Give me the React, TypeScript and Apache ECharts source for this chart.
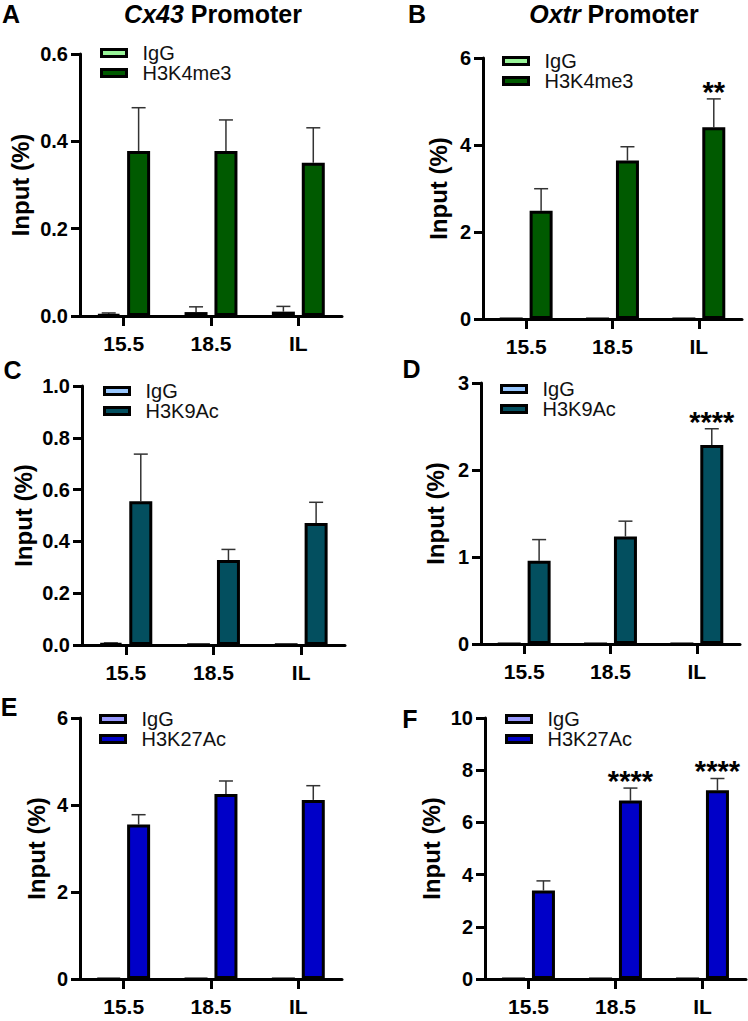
import React, { useEffect, useRef } from "react";
import * as echarts from "echarts";

// ---------- data ----------
const categories = ["15.5", "18.5", "IL"];

// Panel A — Cx43 promoter, H3K4me3
const aIgG = [0.003, 0.009, 0.01];
const aIgGSem = [0.004, 0.012, 0.012];
const aMark = [0.378, 0.378, 0.351];
const aMarkSem = [0.099, 0.071, 0.08];
const aStars = ["", "", ""];

// Panel B — Oxtr promoter, H3K4me3
const bIgG = [0, 0, 0];
const bIgGSem = [0, 0, 0];
const bMark = [2.49, 3.645, 4.41];
const bMarkSem = [0.505, 0.315, 0.65];
const bStars = ["", "", "**"];

// Panel C — Cx43 promoter, H3K9Ac
const cIgG = [0.006, 0.001, 0.001];
const cIgGSem = [0.002, 0, 0];
const cMark = [0.555, 0.328, 0.471];
const cMarkSem = [0.182, 0.041, 0.08];
const cStars = ["", "", ""];

// Panel D — Oxtr promoter, H3K9Ac
const dIgG = [0, 0, 0];
const dIgGSem = [0, 0, 0];
const dMark = [0.957, 1.237, 2.288];
const dMarkSem = [0.243, 0.175, 0.186];
const dStars = ["", "", "****"];

// Panel E — Cx43 promoter, H3K27Ac
const eIgG = [0, 0, 0];
const eIgGSem = [0, 0, 0];
const eMark = [3.552, 4.255, 4.117];
const eMarkSem = [0.225, 0.297, 0.327];
const eStars = ["", "", ""];

// Panel F — Oxtr promoter, H3K27Ac
const fIgG = [0, 0, 0];
const fIgGSem = [0, 0, 0];
const fMark = [3.395, 6.835, 7.231];
const fMarkSem = [0.364, 0.48, 0.451];
const fStars = ["", "****", "****"];

const FONT = '"Liberation Sans", Arial, Helvetica, sans-serif';
const BAR_W = 23;
const BAR_GAP = 0.3;
const OFFSET = (BAR_W + BAR_W * BAR_GAP) / 2;

type Panel = {
  letter: string;
  letterPos: [number, number];
  grid: { left: number; top: number; width: number; height: number };
  ymax: number;
  interval: number;
  decimals: number;
  nameGap: number;
  mark: string;
  igg: number[];
  iggSem: number[];
  val: number[];
  sem: number[];
  stars: string[];
  iggColor: string;
  markColor: string;
  legend: [number, number];
};

const panels: Panel[] = [
  {
    letter: "A", letterPos: [11, 14],
    grid: { left: 80, top: 54, width: 262, height: 262 },
    ymax: 0.6, interval: 0.2, decimals: 1, nameGap: 48,
    mark: "H3K4me3", igg: aIgG, iggSem: aIgGSem, val: aMark, sem: aMarkSem, stars: aStars,
    iggColor: "#99f599", markColor: "#005a00", legend: [100, 43],
  },
  {
    letter: "B", letterPos: [417, 14],
    grid: { left: 483, top: 58, width: 259, height: 261 },
    ymax: 6, interval: 2, decimals: 0, nameGap: 33,
    mark: "H3K4me3", igg: bIgG, iggSem: bIgGSem, val: bMark, sem: bMarkSem, stars: bStars,
    iggColor: "#99f599", markColor: "#005a00", legend: [502, 51],
  },
  {
    letter: "C", letterPos: [12.5, 370],
    grid: { left: 82, top: 386, width: 263, height: 259 },
    ymax: 1.0, interval: 0.2, decimals: 1, nameGap: 47,
    mark: "H3K9Ac", igg: cIgG, iggSem: cIgGSem, val: cMark, sem: cMarkSem, stars: cStars,
    iggColor: "#99c8ff", markColor: "#034f5f", legend: [103, 381],
  },
  {
    letter: "D", letterPos: [411.5, 369],
    grid: { left: 481, top: 383, width: 259, height: 261 },
    ymax: 3, interval: 1, decimals: 0, nameGap: 34,
    mark: "H3K9Ac", igg: dIgG, iggSem: dIgGSem, val: dMark, sem: dMarkSem, stars: dStars,
    iggColor: "#99c8ff", markColor: "#034f5f", legend: [500, 379],
  },
  {
    letter: "E", letterPos: [9, 707],
    grid: { left: 80, top: 718, width: 262, height: 261 },
    ymax: 6, interval: 2, decimals: 0, nameGap: 32,
    mark: "H3K27Ac", igg: eIgG, iggSem: eIgGSem, val: eMark, sem: eMarkSem, stars: eStars,
    iggColor: "#9999ff", markColor: "#0000c8", legend: [99, 709],
  },
  {
    letter: "F", letterPos: [410, 719],
    grid: { left: 485, top: 718, width: 261, height: 261 },
    ymax: 10, interval: 2, decimals: 0, nameGap: 42,
    mark: "H3K27Ac", igg: fIgG, iggSem: fIgGSem, val: fMark, sem: fMarkSem, stars: fStars,
    iggColor: "#9999ff", markColor: "#0000c8", legend: [505, 709],
  },
];

const titles = [
  { gene: "Cx43", x: 213, y: 1 },
  { gene: "Oxtr", x: 614, y: 1 },
];

function makeErr(offset: number, stars: string[]) {
  return (params: any, api: any) => {
    const i = api.value(0);
    const top = api.value(1);
    const mean = api.value(2);
    const pTop = api.coord([i, top]);
    const pMean = api.coord([i, mean]);
    const x = pTop[0] + offset;
    const children: any[] = [];
    if (top > mean) {
      children.push(
        { type: "line", shape: { x1: x, y1: pMean[1], x2: x, y2: pTop[1] }, style: { stroke: "#333", lineWidth: 1.5 } },
        { type: "line", shape: { x1: x - 7, y1: pTop[1], x2: x + 7, y2: pTop[1] }, style: { stroke: "#333", lineWidth: 1.5 } }
      );
    }
    const s = stars[params.dataIndex];
    if (s) {
      children.push({
        type: "text",
        x,
        y: pTop[1] - 7,
        style: {
          text: s, fontSize: 29, fontWeight: "bold", fontFamily: FONT, fill: "#000",
          align: "center", verticalAlign: "middle",
        },
      });
    }
    return { type: "group", children };
  };
}

function buildOption() {
  const grid = panels.map((p) => ({ ...p.grid }));
  const xAxis = panels.map((p, i) => ({
    type: "category",
    gridIndex: i,
    data: categories,
    axisLine: { show: true, lineStyle: { color: "#000", width: 3 } },
    axisTick: { show: true, alignWithLabel: true, length: 10, lineStyle: { color: "#000", width: 3 } },
    axisLabel: { fontSize: 21, fontWeight: "bold", color: "#000", margin: 17, fontFamily: FONT },
    splitLine: { show: false },
  }));
  const yAxis = panels.map((p, i) => ({
    type: "value",
    gridIndex: i,
    min: 0,
    max: p.ymax,
    interval: p.interval,
    splitLine: { show: false },
    axisLine: { show: true, lineStyle: { color: "#000", width: 3 } },
    axisTick: { show: true, length: 9, lineStyle: { color: "#000", width: 3 } },
    axisLabel: {
      fontSize: 20, fontWeight: "bold", color: "#000", margin: 12, fontFamily: FONT,
      formatter: (v: number) => v.toFixed(p.decimals),
    },
    name: "Input (%)",
    nameLocation: "middle",
    nameGap: p.nameGap,
    nameTextStyle: { fontSize: 24, fontWeight: "bold", color: "#000", fontFamily: FONT },
  }));
  const series: any[] = [];
  panels.forEach((p, i) => {
    series.push({
      type: "custom", xAxisIndex: i, yAxisIndex: i, z: 1, silent: true,
      data: p.igg.map((m, j) => [j, m + p.iggSem[j], m]),
      renderItem: makeErr(-OFFSET, ["", "", ""]),
    });
    series.push({
      type: "custom", xAxisIndex: i, yAxisIndex: i, z: 1, silent: true,
      data: p.val.map((m, j) => [j, m + p.sem[j], m]),
      renderItem: makeErr(OFFSET, p.stars),
    });
    series.push({
      type: "bar", name: "IgG", xAxisIndex: i, yAxisIndex: i, z: 3,
      data: p.igg, barWidth: BAR_W, barGap: BAR_GAP * 100 + "%",
      itemStyle: { color: p.iggColor, borderColor: "#000", borderWidth: 3 },
    });
    series.push({
      type: "bar", name: p.mark, xAxisIndex: i, yAxisIndex: i, z: 3,
      data: p.val, barWidth: BAR_W, barGap: BAR_GAP * 100 + "%",
      itemStyle: { color: p.markColor, borderColor: "#000", borderWidth: 3 },
    });
  });
  const legend = panels.map((p) => ({
    orient: "vertical",
    left: p.legend[0],
    top: p.legend[1],
    itemGap: 0,
    itemWidth: 25,
    itemHeight: 7,
    icon: "rect",
    selectedMode: false,
    padding: 0,
    textStyle: { fontSize: 20, color: "#111", fontFamily: FONT, padding: [0, 0, 0, 11] },
    data: [
      { name: "IgG", itemStyle: { color: p.iggColor, borderColor: "#000", borderWidth: 3 } },
      { name: p.mark, itemStyle: { color: p.markColor, borderColor: "#000", borderWidth: 3 } },
    ],
  }));
  const title = titles.map((t) => ({
    text: "{i|" + t.gene + "} Promoter",
    left: t.x,
    top: t.y,
    textAlign: "center",
    padding: 0,
    textStyle: {
      fontSize: 25, fontWeight: "bold", color: "#000", fontFamily: FONT,
      rich: { i: { fontSize: 25, fontWeight: "bold", fontStyle: "italic", color: "#000", fontFamily: FONT } },
    },
  }));
  const graphic = panels.map((p) => ({
    type: "text",
    x: p.letterPos[0],
    y: p.letterPos[1],
    style: {
      text: p.letter, fontSize: 25, fontWeight: "bold", fontFamily: FONT, fill: "#000",
      textAlign: "center", textVerticalAlign: "middle", align: "center", verticalAlign: "middle",
    },
  }));
  return {
    animation: false,
    backgroundColor: "#fff",
    textStyle: { fontFamily: FONT },
    title,
    grid,
    xAxis,
    yAxis,
    legend,
    series,
    graphic,
  };
}

export default function App() {
  const ref = useRef<HTMLDivElement>(null);
  useEffect(() => {
    if (!ref.current) return;
    const chart = echarts.init(ref.current, undefined, { renderer: "svg" });
    chart.setOption(buildOption() as any);
    return () => chart.dispose();
  }, []);
  return (
    <div
      ref={ref}
      style={{ position: "absolute", left: 0, top: 0, width: 748, height: 1021, background: "#fff" }}
    />
  );
}
